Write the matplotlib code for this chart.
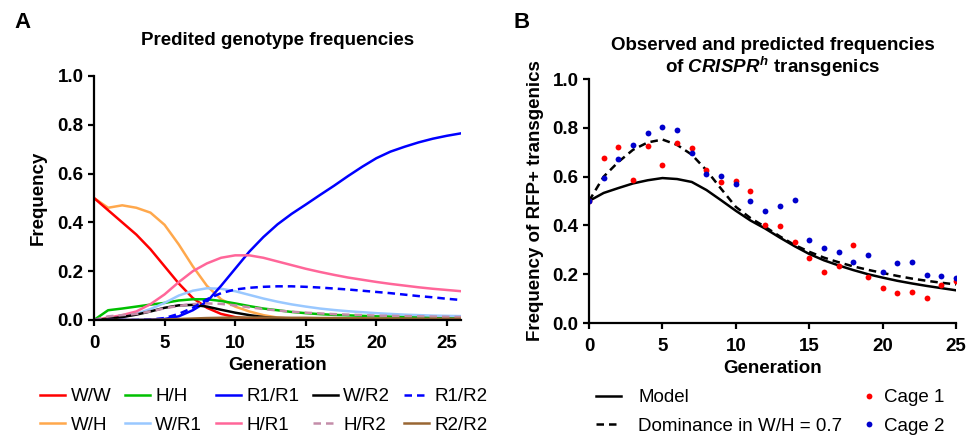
import numpy as np
import matplotlib
matplotlib.use('Agg')
import matplotlib.pyplot as plt

plt.rcParams['font.family'] = ['Liberation Sans', 'DejaVu Sans']
plt.rcParams['mathtext.fontset'] = 'custom'
plt.rcParams['mathtext.it'] = 'Liberation Sans:bold:italic'
plt.rcParams['mathtext.rm'] = 'Liberation Sans:bold'

# Panel A: predicted genotype frequencies per generation (0..26)
gen_a = np.arange(27)
ww = [0.5, 0.45, 0.40, 0.35, 0.29, 0.22, 0.15, 0.09, 0.05, 0.025, 0.012, 0.006, 0.003,
      0.001, 0, 0, 0, 0, 0, 0, 0, 0, 0, 0, 0, 0, 0]
wh = [0.5, 0.46, 0.47, 0.46, 0.44, 0.39, 0.31, 0.22, 0.14, 0.085, 0.055, 0.035, 0.02,
      0.01, 0.005, 0.002, 0.001, 0, 0, 0, 0, 0, 0, 0, 0, 0, 0]
hh = [0.0, 0.04, 0.047, 0.055, 0.063, 0.07, 0.08, 0.085, 0.085, 0.078, 0.068, 0.057, 0.047,
      0.04, 0.033, 0.028, 0.024, 0.021, 0.019, 0.017, 0.015, 0.014, 0.013, 0.012, 0.011,
      0.011, 0.01]
wr1 = [0.0, 0.005, 0.012, 0.025, 0.045, 0.07, 0.1, 0.12, 0.13, 0.128, 0.118, 0.103, 0.088,
       0.075, 0.064, 0.055, 0.047, 0.041, 0.036, 0.032, 0.028, 0.025, 0.022, 0.02, 0.018,
       0.017, 0.016]
r1r1 = [0, 0, 0, 0, 0.001, 0.004, 0.015, 0.04, 0.075, 0.14, 0.21, 0.28, 0.34, 0.392,
        0.435, 0.473, 0.512, 0.55, 0.59, 0.628, 0.663, 0.69, 0.71, 0.728, 0.743, 0.755, 0.765]
hr1 = [0.0, 0.01, 0.02, 0.035, 0.065, 0.105, 0.155, 0.2, 0.232, 0.255, 0.265, 0.265, 0.255,
       0.24, 0.225, 0.21, 0.197, 0.185, 0.174, 0.165, 0.156, 0.148, 0.141, 0.134, 0.128,
       0.123, 0.118]
wr2 = [0.0, 0.005, 0.012, 0.022, 0.035, 0.05, 0.06, 0.062, 0.055, 0.042, 0.03, 0.02, 0.012,
       0.007, 0.004, 0.002, 0.001, 0, 0, 0, 0, 0, 0, 0, 0, 0, 0]
hr2 = [0.0, 0.015, 0.02, 0.025, 0.035, 0.048, 0.058, 0.065, 0.068, 0.066, 0.06, 0.052, 0.045,
       0.039, 0.034, 0.03, 0.027, 0.024, 0.022, 0.02, 0.018, 0.017, 0.016, 0.015, 0.014,
       0.013, 0.012]
r1r2 = [0, 0, 0, 0, 0.002, 0.008, 0.025, 0.05, 0.085, 0.11, 0.125, 0.132, 0.136, 0.138,
        0.138, 0.136, 0.133, 0.129, 0.125, 0.12, 0.115, 0.11, 0.104, 0.098, 0.093, 0.087,
        0.082]
r2r2 = [0, 0, 0, 0, 0.001, 0.002, 0.004, 0.006, 0.008, 0.009, 0.01, 0.01, 0.01, 0.01,
        0.009, 0.009, 0.008, 0.008, 0.007, 0.007, 0.006, 0.006, 0.006, 0.005, 0.005, 0.005,
        0.005]

# Panel B: RFP+ frequency, model vs cages (0..25)
gen_b = np.arange(26)
model = [0.5, 0.533, 0.553, 0.572, 0.585, 0.594, 0.59, 0.578, 0.545, 0.503, 0.46, 0.42,
         0.387, 0.35, 0.315, 0.283, 0.257, 0.236, 0.217, 0.2, 0.186, 0.173, 0.162, 0.152,
         0.143, 0.134]
dominance = [0.5, 0.6, 0.66, 0.71, 0.74, 0.752, 0.73, 0.69, 0.626, 0.55, 0.476, 0.43,
             0.394, 0.355, 0.32, 0.292, 0.268, 0.249, 0.232, 0.218, 0.205, 0.193, 0.182,
             0.173, 0.165, 0.158]
cage1 = [0.5, 0.677, 0.72, 0.588, 0.725, 0.646, 0.736, 0.717, 0.629, 0.577, 0.58, 0.539,
         0.402, 0.397, 0.331, 0.268, 0.208, 0.235, 0.32, 0.189, 0.145, 0.123, 0.129, 0.104,
         0.156, 0.172]
cage2 = [0.5, 0.595, 0.673, 0.73, 0.777, 0.804, 0.793, 0.698, 0.61, 0.602, 0.569, 0.5,
         0.46, 0.479, 0.503, 0.339, 0.309, 0.289, 0.252, 0.28, 0.208, 0.246, 0.25, 0.197,
         0.194, 0.186]

W, H = 979, 438
fs = 13.5
fig = plt.figure(figsize=(W / 100, H / 100), dpi=100)


def px_axes(left, top, right, bottom):
    return fig.add_axes([left / W, 1 - bottom / H, (right - left) / W, (bottom - top) / H])


def style(ax):
    for s in ['top', 'right']:
        ax.spines[s].set_visible(False)
    for s in ['left', 'bottom']:
        ax.spines[s].set_linewidth(1.6)
    ax.tick_params(width=1.6, length=4.5, labelsize=fs, pad=3)
    ax.tick_params(axis='x', pad=6)
    ax.set_xticks([0, 5, 10, 15, 20, 25])
    yt = np.arange(0, 1.01, 0.2)
    ax.set_yticks(yt)
    ax.set_yticklabels(['%.1f' % v for v in yt])
    for lab in ax.get_xticklabels() + ax.get_yticklabels():
        lab.set_fontweight('bold')


lw = 1.8
axA = px_axes(94, 76, 461, 320)
axA.plot(gen_a, wh, color='#FFA84C', lw=lw, label='W/H')
axA.plot(gen_a, ww, color='#FF0000', lw=lw, label='W/W')
axA.plot(gen_a, hh, color='#00C000', lw=lw, label='H/H')
axA.plot(gen_a, wr1, color='#99C8FF', lw=lw, label='W/R1')
axA.plot(gen_a, r1r1, color='#0000FF', lw=lw, label='R1/R1')
axA.plot(gen_a, hr1, color='#FF6699', lw=lw, label='H/R1')
axA.plot(gen_a, wr2, color='black', lw=lw, label='W/R2')
axA.plot(gen_a, hr2, color='#C48DA9', lw=lw, ls=(0, (3, 2)), label='H/R2')
axA.plot(gen_a, r1r2, color='#0000FF', lw=lw, ls=(0, (3, 2)), label='R1/R2')
axA.plot(gen_a, r2r2, color='#996633', lw=lw, label='R2/R2')
axA.set_xlim(0, 26)
axA.set_ylim(0, 1.0)
style(axA)
axA.set_xlabel('Generation', fontsize=fs, fontweight='bold', labelpad=4)
axA.set_ylabel('Frequency', fontsize=fs, fontweight='bold', labelpad=8)
axA.set_title('Predited genotype frequencies', fontsize=fs, fontweight='bold', pad=22)

# legend order (column-major, 5 columns x 2 rows)
hA, lA = axA.get_legend_handles_labels()
order = ['W/W', 'W/H', 'H/H', 'W/R1', 'R1/R1', 'H/R1', 'W/R2', 'H/R2', 'R1/R2', 'R2/R2']
hA = [hA[lA.index(k)] for k in order]
fig.legend(hA, order, ncol=5, loc='upper left', bbox_to_anchor=(40 / W, 1 - 388 / H),
           frameon=False, fontsize=fs, handlelength=1.35, handletextpad=0.28,
           columnspacing=0.72, labelspacing=0.62, borderpad=0, borderaxespad=0)

axB = px_axes(589, 79, 956, 323)
axB.plot(gen_b, model, color='black', lw=lw, label='Model')
axB.plot(gen_b, dominance, color='black', lw=lw, ls=(0, (3, 2)),
         label='Dominance in W/H = 0.7')
axB.plot(gen_b, cage1, 'o', color='#FF0000', ms=4.2, mec='none', label='Cage 1')
axB.plot(gen_b, cage2, 'o', color='#0000CC', ms=4.2, mec='none', label='Cage 2')
axB.set_xlim(0, 25)
axB.set_ylim(0, 1.0)
style(axB)
axB.set_xlabel('Generation', fontsize=fs, fontweight='bold', labelpad=4)
axB.set_ylabel('Frequency of RFP+ transgenics', fontsize=fs, fontweight='bold', labelpad=6)
axB.set_title('Observed and predicted frequencies\nof $\\mathit{CRISPR}^{\\mathit{h}}$ transgenics',
              fontsize=fs, fontweight='bold', pad=4, linespacing=1.05)
hB, lB = axB.get_legend_handles_labels()
fig.legend(hB[:2], lB[:2], loc='upper left', bbox_to_anchor=(596 / W, 1 - 389 / H),
           frameon=False, fontsize=fs, handlelength=1.35, handletextpad=0.9,
           labelspacing=0.62, borderpad=0, borderaxespad=0)
fig.legend(hB[2:], lB[2:], loc='upper left', bbox_to_anchor=(860 / W, 1 - 389 / H),
           frameon=False, fontsize=fs, handlelength=1.0, handletextpad=0.3,
           labelspacing=0.62, borderpad=0, borderaxespad=0)

fig.text(14 / W, 1 - 12 / H, 'A', fontsize=16, fontweight='bold', va='top')
fig.text(514 / W, 1 - 12 / H, 'B', fontsize=16, fontweight='bold', va='top')

fig.savefig('out.png', dpi=100)
